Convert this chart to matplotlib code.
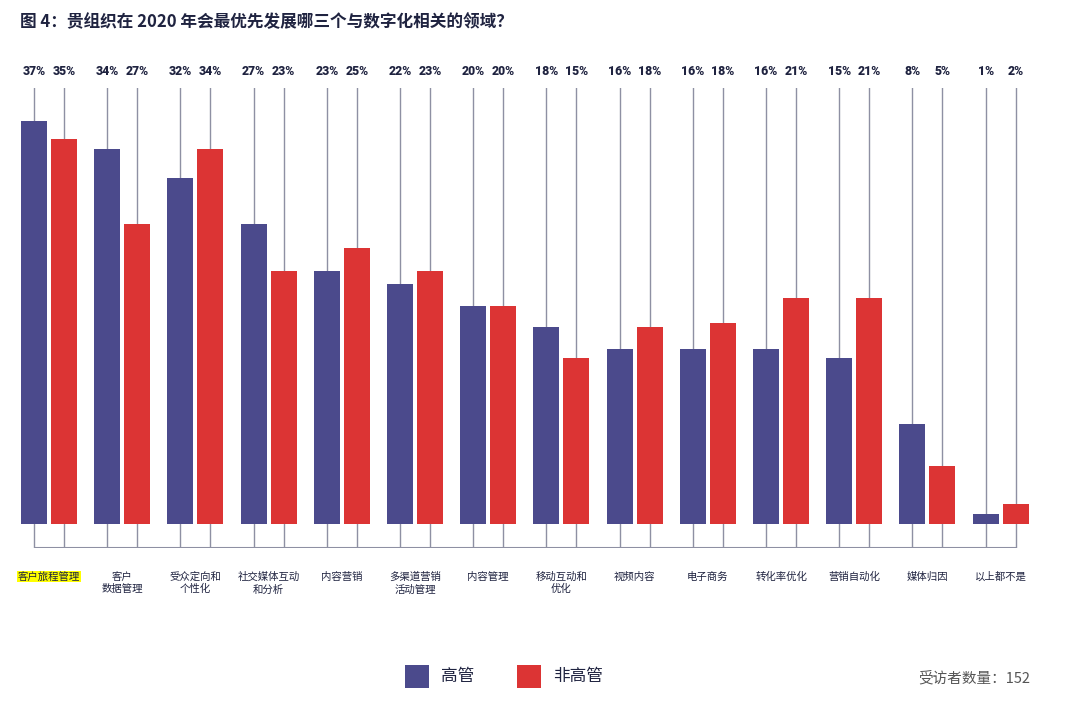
import numpy as np
import matplotlib
matplotlib.use("Agg")
import matplotlib.pyplot as plt
from matplotlib.patches import Rectangle

plt.rcParams['font.family'] = ['Noto Sans CJK SC', 'DejaVu Sans']

# === Data ===
categories = ["客户旅程管理", "客户\n数据管理", "受众定向和\n个性化", "社交媒体互动\n和分析", "内容营销",
              "多渠道营销\n活动管理", "内容管理", "移动互动和\n优化", "视频内容", "电子商务",
              "转化率优化", "营销自动化", "媒体归因", "以上都不是"]
# bar heights (%)
exec_vals = [37.0, 34.4, 31.7, 27.5, 23.2, 22.0, 20.0, 18.1, 16.1, 16.1, 16.1, 15.2, 9.2, 0.9]
non_exec_vals = [35.3, 27.5, 34.4, 23.2, 25.3, 23.2, 20.0, 15.2, 18.1, 18.4, 20.7, 20.7, 5.3, 1.8]
# printed labels
exec_labels = [37, 34, 32, 27, 23, 22, 20, 18, 16, 16, 16, 15, 8, 1]
non_exec_labels = [35, 27, 34, 23, 25, 23, 20, 15, 18, 18, 21, 21, 5, 2]
series_names = ["高管", "非高管"]

blue = "#4B4A8C"
red = "#DC3434"
grey_line = "#8E90A3"
text_col = "#1F2340"

fig = plt.figure(figsize=(10.8, 7.09), dpi=100)
W, H = 1080, 709

# axes: px 88 .. 548 vertically, full width horizontally
ax = fig.add_axes([0, (H - 548) / H, 1, (548 - 88) / H])
x = np.arange(len(categories))
spacing = 73.2
x0 = 49
ax.set_xlim(-x0 / spacing, (W - x0) / spacing)
ax.set_ylim(-2.2, 40)
ax.axis("off")

off = 15 / spacing
bw = 26 / spacing

# vertical guide lines behind bars
for xi in x:
    for dx in (-off, off):
        ax.plot([xi + dx, xi + dx], [-2.2, 40], color=grey_line, lw=1, zorder=1)
ax.plot([x[0] - off, x[-1] + off], [-2.2, -2.2], color=grey_line, lw=1.5, zorder=1,
        solid_capstyle="butt")

ax.bar(x - off, exec_vals, width=bw, color=blue, zorder=2)
ax.bar(x + off, non_exec_vals, width=bw, color=red, zorder=2)

# value labels on top
for xi, a, b in zip(x, exec_labels, non_exec_labels):
    for dx, v in ((-off, a), (off, b)):
        ax.annotate(f"{v}%", (xi + dx, 40), xytext=(0, 7), textcoords="offset points",
                    ha="center", va="bottom", fontsize=8.8, fontweight="heavy", color=text_col,
                    family=["Roboto", "DejaVu Sans"])

# category labels
for xi, lab in zip(x, categories):
    t = ax.annotate(lab, (xi, -2.2), xytext=(0, -17), textcoords="offset points",
                    ha="center", va="top", fontsize=7.5, color=text_col, linespacing=1.3)
    if xi == 0:
        t.set_bbox(dict(facecolor="#FFFF00", edgecolor="none", pad=0.5))

# title
fig.text(20 / W, 1 - 22 / H, "图 4：贵组织在 2020 年会最优先发展哪三个与数字化相关的领域？",
         fontsize=12, fontweight="bold", color=text_col, va="center", ha="left")

# legend
for px, col, name in [(405, blue, series_names[0]), (517, red, series_names[1])]:
    fig.patches.append(Rectangle((px / W, 1 - 688 / H), 24 / W, 23 / H,
                                 transform=fig.transFigure, facecolor=col, edgecolor="none"))
    fig.text((px + 36) / W, 1 - 677 / H, name, fontsize=12, color=text_col,
             va="center", ha="left")

fig.text(1030 / W, 1 - 678 / H, "受访者数量：152", fontsize=10.5, color="#555555",
         style="italic", va="center", ha="right")

fig.savefig("out.png", dpi=100)
